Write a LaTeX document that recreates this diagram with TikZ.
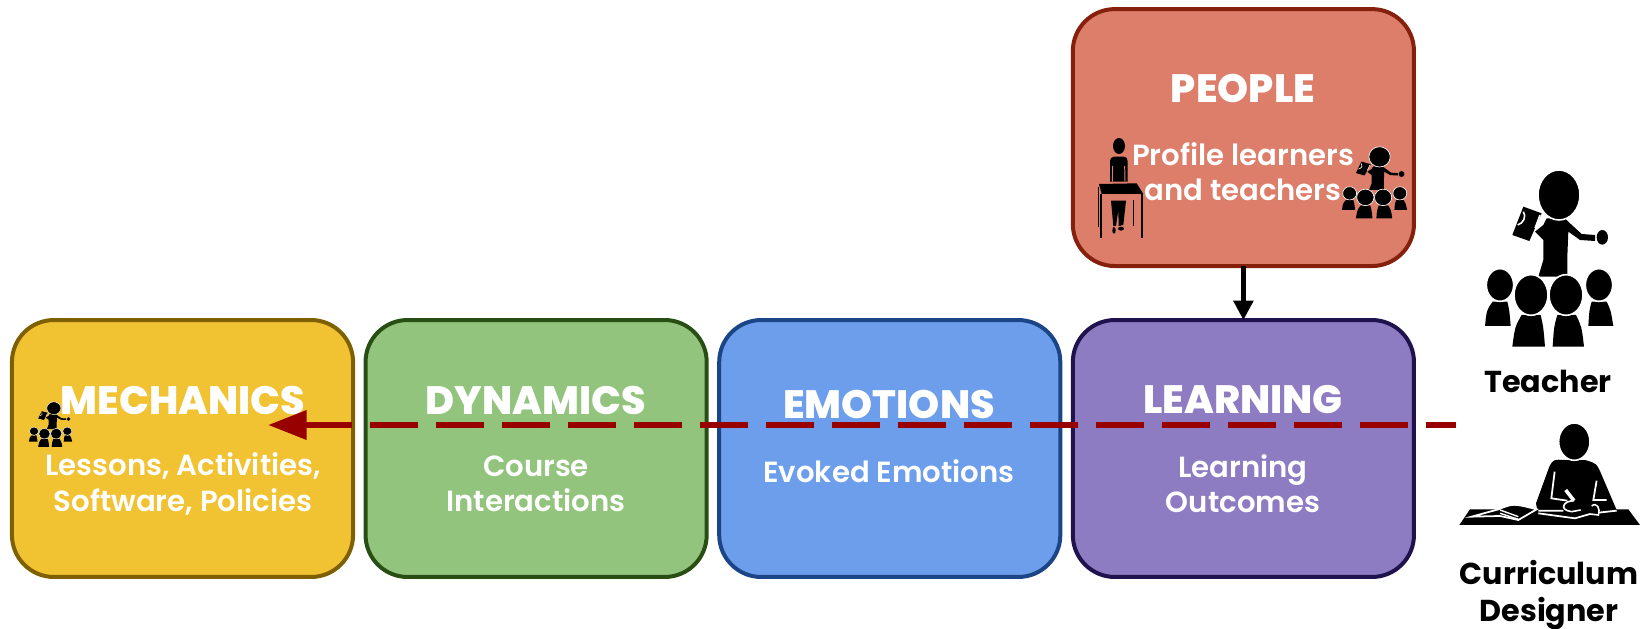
\documentclass[tikz,border=0pt]{standalone}
\usepackage{fontspec}
\setmainfont{Poppins}
\newfontfamily\descfont{Poppins SemiBold}
\newfontfamily\titlefont{Poppins ExtraBold}
\usetikzlibrary{arrows.meta,positioning}
\definecolor{peoplefill}{HTML}{DD7E6B}
\definecolor{peopleline}{HTML}{85200C}
\definecolor{mechfill}{HTML}{F1C232}
\definecolor{mechline}{HTML}{7F6000}
\definecolor{dynfill}{HTML}{93C47D}
\definecolor{dynline}{HTML}{274E13}
\definecolor{emofill}{HTML}{6D9EEB}
\definecolor{emoline}{HTML}{1C4587}
\definecolor{learnfill}{HTML}{8E7CC3}
\definecolor{learnline}{HTML}{20124D}
\definecolor{flowred}{HTML}{980000}
\tikzset{
    stagebox/.style={draw, line width=2.27pt, rounded corners=0.84cm, minimum width=6.824cm,
        minimum height=5.14cm, outer sep=0pt, inner sep=0pt},
    stagetitle/.style={text=white, font=\titlefont\fontsize{22.5}{26}\selectfont, inner sep=0pt},
    stagedesc/.style={text=white, align=center, font=\descfont\fontsize{16.6}{20}\selectfont, inner sep=0pt},
    rolelabel/.style={text=black, align=center, font=\bfseries\fontsize{17.2}{21}\selectfont, inner sep=0pt},
    teacherpic/.pic={
        \fill (130,140) -- (185,160) -- (148,243) -- (97,225) -- cycle;
        \draw[white] (130,155) .. controls (140,170) and (130,190) .. (113,195);
        \fill (190,195) -- (165,215) -- (190,240) -- (190,300) -- (175,350) -- (262,350)
            -- (262,290) -- (265,215) -- (300,240) -- (345,243) -- (345,225) -- (305,222)
            -- (270,190) -- (255,175) -- (200,175) -- cycle;
        \fill (367,232) ellipse (17 and 22);
        \draw[white] (180,165) -- (165,205);
        \filldraw[draw=white] (237,105) ellipse (63 and 75);
        \fill (38,425) -- (82,425) .. controls (88,450) .. (92,498) -- (15,498) .. controls (20,450) .. cycle;
        \filldraw[draw=white] (60,375) ellipse (41 and 49);
        \fill (335,425) -- (380,425) .. controls (392,450) .. (400,498) -- (325,498) .. controls (328,450) .. cycle;
        \filldraw[draw=white] (357,375) ellipse (41 and 49);
        \fill (125,465) -- (182,465) .. controls (190,500) .. (195,560) -- (97,560) .. controls (105,500) .. cycle;
        \filldraw[draw=white] (153,405) ellipse (51 and 61);
        \fill (232,465) -- (288,465) .. controls (305,500) .. (312,560) -- (218,560) .. controls (222,500) .. cycle;
        \filldraw[draw=white] (258,405) ellipse (51 and 61);
    },
    deskpic/.pic={
        \fill (87,48) ellipse (18 and 24);
        \fill (72,80) -- (102,80) .. controls (110,82) .. (113,95) -- (113,155) -- (60,155) -- (60,95) .. controls (62,84) .. cycle;
        \draw[peoplefill, line width=.55pt] (68,108) -- (67,155) (104,108) -- (105,155);
        \fill (27,162) -- (140,160) -- (160,192) -- (35,192) -- cycle;
        \draw[line width=1.3pt] (33,192) -- (33,325) (157,192) -- (157,325);
        \draw[line width=.7pt] (25,170) -- (25,292) (130,210) -- (130,288);
        \fill (63,212) -- (108,212) -- (100,285) -- (86,288) -- (85,240) -- (78,288) -- (70,288) -- cycle;
        \fill (72,301) ellipse (5 and 10) (93,296) ellipse (9 and 6);
    },
    designerpic/.pic={
        \fill (60,298) -- (535,298) -- (570,345) -- (28,345) -- cycle;
        \fill (345,150) .. controls (310,148) .. (298,170) -- (258,280) -- (262,300) -- (500,300)
            -- (455,195) .. controls (440,160) .. (405,150) -- cycle;
        \filldraw[draw=white, line width=.9pt] (373,95) ellipse (47 and 56);
        \draw[white, line width=1pt] (314,185) -- (304,265) -- (352,272) (440,212) -- (430,270) -- (470,270);
        \draw[white, line width=2pt] (347,240) -- (372,272);
        \draw[white, line width=.9pt] (372,272) .. controls (340,272) and (325,300) .. (365,305) -- (392,300);
        \draw[white, line width=.9pt] (425,288) .. controls (440,275) and (452,295) .. (445,315) -- (420,312);
        \filldraw[draw=white, line width=1pt] (65,320) -- (145,298) .. controls (190,280) .. (260,298)
            -- (205,330) -- (150,318) -- cycle;
        \draw[white, line width=.8pt] (150,300) -- (205,320) (150,310) -- (205,328);
        \draw[white, line width=1pt] (265,302) -- (340,302) (265,310) -- (375,325) -- (420,312) (445,308) -- (500,302);
    }
}
\begin{document}
\begin{tikzpicture}[x=0.02cm,y=-0.02cm,>=Triangle]
    \useasboundingbox (0,0) rectangle (1651,629);

    \node[stagebox, fill=mechfill, draw=mechline] (mechanics) at (182.5,448.5) {};
    \node[stagebox, fill=dynfill, draw=dynline, right=0.25cm of mechanics] (dynamics) {};
    \node[stagebox, fill=emofill, draw=emoline, right=0.25cm of dynamics] (emotions) {};
    \node[stagebox, fill=learnfill, draw=learnline, right=0.25cm of emotions] (learning) {};
    \node[stagebox, fill=peoplefill, draw=peopleline, above=1.08cm of learning] (people) {};

    \node[stagetitle] (mechtitle)  at (183,400) {MECHANICS};
    \node[stagetitle] (dyntitle)   at (536,400) {DYNAMICS};
    \node[stagetitle] (emotitle)   at (889,404) {EMOTIONS};
    \node[stagetitle] (learntitle) at (1243,400) {LEARNING};
    \node[stagetitle] (peopletitle) at (1243,88) {PEOPLE};

    \node[stagedesc] (mechdesc)  at (183,484) {Lessons, Activities,\\Software, Policies};
    \node[stagedesc] (dyndesc)   at (536,484) {Course\\Interactions};
    \node[stagedesc] (emodesc)   at (889,471) {Evoked Emotions};
    \node[stagedesc] (learndesc) at (1243,484) {Learning\\Outcomes};
    \node[stagedesc] (peopledesc) at (1243,172) {Profile learners\\and teachers};

    \node[rolelabel] (teacherlabel)  at (1548,381) {Teacher};
    \node[rolelabel] (designerlabel) at (1549,595) {Curriculum\\Designer};

    \pic[xscale=.3333,yscale=.3333,line width=.9pt] at (1480,160) {teacherpic};
    \pic[xscale=.169,yscale=.135,line width=.35pt] at (1339.5,142.7) {teacherpic};
    \pic[xscale=.112,yscale=.085,line width=.25pt] at (27.3,399.3) {teacherpic};
    \pic[xscale=.3333,yscale=.3333] at (1090,130) {deskpic};
    \pic[xscale=.3333,yscale=.3333] at (1450,410) {designerpic};

    \coordinate (flowstart) at (1456,425);
    \coordinate (flowend) at (268,425);

    \draw[line width=2.55pt, -{Triangle[length=11pt,width=11pt]}] (people) -- (learning);
    \draw[line width=3.7pt, flowred, dash pattern=on 0.96cm off 0.36cm, dash phase=0.36cm,
        -{Triangle[length=22pt,width=16pt]}] (flowstart) -- (flowend);
\end{tikzpicture}
\end{document}
